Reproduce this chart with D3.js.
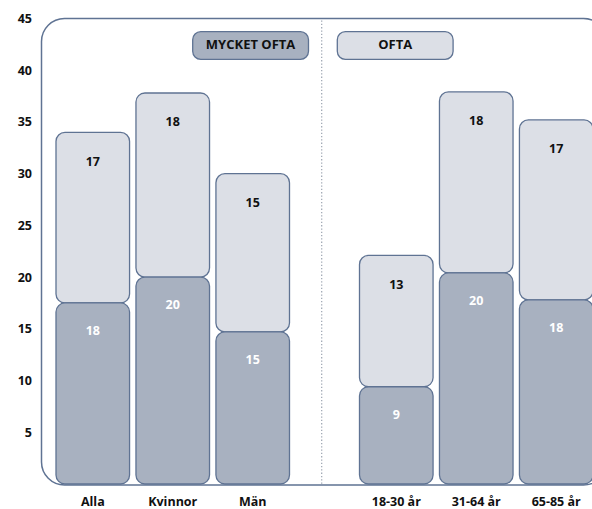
<!DOCTYPE html>
<html>
<head>
<meta charset="utf-8">
<script src="https://cdn.jsdelivr.net/npm/d3@7"></script>
<style>
  body { margin: 0; background: #fff; }
  text { font-family: "Open Sans", Lato, sans-serif; font-weight: bold; }
</style>
</head>
<body>
<div id="chart"></div>
<script>
// data
var groupLeft = ["Alla", "Kvinnor", "Män"];
var groupRight = ["18-30 år", "31-64 år", "65-85 år"];
var categories = groupLeft.concat(groupRight);
var mycketOfta = [17.5, 20.0, 14.7, 9.4, 20.4, 17.8];
var ofta = [16.5, 17.8, 15.3, 12.7, 17.5, 17.4];
var seriesNames = ["MYCKET OFTA", "OFTA"];
var yTicks = [5, 10, 15, 20, 25, 30, 35, 40, 45];

var width = 592, height = 509;
var darkFill = "#a8b1c0", lightFill = "#dcdfe6", strokeCol = "#5f7393";
var fontSize = "12.5px";

var svg = d3.select("#chart").append("svg")
    .attr("width", width)
    .attr("height", height);

var y = d3.scaleLinear().domain([0, 45]).range([484, 18.5]);

var xLeft = d3.scaleBand().domain(groupLeft).range([56, 289.5])
    .paddingInner(0.08).paddingOuter(0);
var xRight = d3.scaleBand().domain(groupRight).range([359.5, 593])
    .paddingInner(0.08).paddingOuter(0);

function xPos(c) {
    return groupLeft.indexOf(c) >= 0 ? xLeft(c) : xRight(c);
}
var bw = xLeft.bandwidth();

// outer frame
svg.append("rect")
    .attr("x", 41.5).attr("y", y(45))
    .attr("width", 565).attr("height", 485 - y(45))
    .attr("rx", 23).attr("ry", 23)
    .attr("fill", "none")
    .attr("stroke", strokeCol)
    .attr("stroke-width", 1.5);

// divider
svg.append("line")
    .attr("x1", 321.7).attr("x2", 321.7)
    .attr("y1", y(45) + 2).attr("y2", y(0))
    .attr("stroke", "#9aa3b0")
    .attr("stroke-width", 1.2)
    .attr("stroke-dasharray", "1.3,2");

// y axis
var yAxis = d3.axisLeft(y).tickValues(yTicks).tickSize(0).tickPadding(0);
var yg = svg.append("g").attr("transform", "translate(32,0)").call(yAxis);
yg.select(".domain").remove();
yg.selectAll("text")
    .style("font-family", "'Open Sans', Lato, sans-serif")
    .style("font-weight", "bold")
    .style("font-size", fontSize)
    .attr("fill", "#111");

var rows = categories.map(function (c, i) {
    return { cat: c, dark: mycketOfta[i], light: ofta[i] };
});

var bars = svg.append("g").selectAll("g")
    .data(rows).enter().append("g");

// light (OFTA) segment on top
bars.append("rect")
    .attr("x", function (d) { return xPos(d.cat); })
    .attr("y", function (d) { return y(d.dark + d.light); })
    .attr("width", bw)
    .attr("height", function (d) { return y(d.dark) - y(d.dark + d.light); })
    .attr("rx", 9).attr("ry", 9)
    .attr("fill", lightFill)
    .attr("stroke", strokeCol)
    .attr("stroke-width", 1.3);

// dark (MYCKET OFTA) segment
bars.append("rect")
    .attr("x", function (d) { return xPos(d.cat); })
    .attr("y", function (d) { return y(d.dark); })
    .attr("width", bw)
    .attr("height", function (d) { return y(0) - y(d.dark); })
    .attr("rx", 9).attr("ry", 9)
    .attr("fill", darkFill)
    .attr("stroke", strokeCol)
    .attr("stroke-width", 1.3);

bars.append("text")
    .attr("x", function (d) { return xPos(d.cat) + bw / 2; })
    .attr("y", function (d) { return y(d.dark + d.light) + 30; })
    .attr("text-anchor", "middle")
    .attr("dominant-baseline", "middle")
    .attr("font-size", fontSize)
    .attr("fill", "#111")
    .text(function (d) { return Math.round(d.light); });

bars.append("text")
    .attr("x", function (d) { return xPos(d.cat) + bw / 2; })
    .attr("y", function (d) { return y(d.dark) + 29; })
    .attr("text-anchor", "middle")
    .attr("dominant-baseline", "middle")
    .attr("font-size", fontSize)
    .attr("fill", "#fff")
    .text(function (d) { return Math.round(d.dark); });

// category labels
bars.append("text")
    .attr("x", function (d) { return xPos(d.cat) + bw / 2; })
    .attr("y", 503)
    .attr("text-anchor", "middle")
    .attr("dominant-baseline", "middle")
    .attr("font-size", fontSize)
    .attr("fill", "#111")
    .text(function (d) { return d.cat; });

// legend
var legend = [
    { name: seriesNames[0], fill: darkFill, x: 192.7 },
    { name: seriesNames[1], fill: lightFill, x: 337.3 }
];
var lg = svg.append("g").selectAll("g").data(legend).enter().append("g");
lg.append("rect")
    .attr("x", function (d) { return d.x; })
    .attr("y", 31.7)
    .attr("width", 115.8).attr("height", 27.6)
    .attr("rx", 8).attr("ry", 8)
    .attr("fill", function (d) { return d.fill; })
    .attr("stroke", strokeCol)
    .attr("stroke-width", 1.3);
lg.append("text")
    .attr("x", function (d) { return d.x + 57.9; })
    .attr("y", 45.5)
    .attr("text-anchor", "middle")
    .attr("dominant-baseline", "middle")
    .attr("font-size", "13px")
    .attr("fill", "#111")
    .text(function (d) { return d.name; });
</script>
</body>
</html>
